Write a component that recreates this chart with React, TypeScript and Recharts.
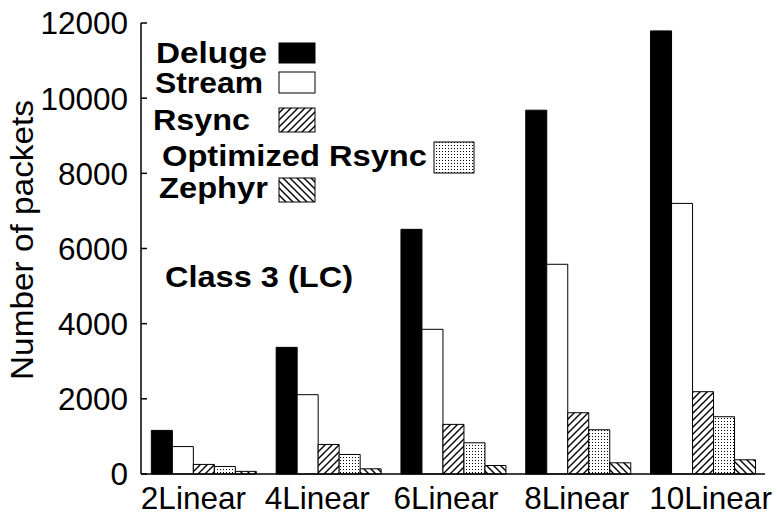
import React from 'react';
import { BarChart, Bar, XAxis, YAxis, Customized } from 'recharts';

const categories = ['2Linear', '4Linear', '6Linear', '8Linear', '10Linear'];
const deluge = [1160, 3370, 6510, 9680, 11790];
const stream = [730, 2110, 3850, 5580, 7200];
const rsync = [255, 786, 1320, 1630, 2190];
const optRsync = [200, 520, 830, 1177, 1524];
const zephyr = [70, 138, 226, 298, 378];
const yTicks = [0, 2000, 4000, 6000, 8000, 10000, 12000];

// small per-label horizontal nudges of the x tick labels (layout only)
const xLabelNudge = [-10, -11, -7, -1, 8];

const data = categories.map((c, i) => ({
  name: c,
  deluge: deluge[i],
  stream: stream[i],
  rsync: rsync[i],
  optRsync: optRsync[i],
  zephyr: zephyr[i],
}));

const FONT = '"Liberation Sans", Arial, Helvetica, sans-serif';

const YTick = (props: any) => {
  const { x, y, payload } = props;
  return (
    <g>
      <line x1={x + 13} x2={x + 19} y1={y} y2={y} stroke="#000" strokeWidth={1.5} />
      <text x={x} y={y} dy="0.36em" textAnchor="end" fontFamily={FONT} fontSize={31.5} fill="#000">
        {payload.value}
      </text>
    </g>
  );
};

const XTick = (props: any) => {
  const { x, y, payload, index } = props;
  const nudge = xLabelNudge[index] ?? 0;
  return (
    <text x={x + nudge} y={y + 33} textAnchor="middle" fontFamily={FONT} fontSize={31.5} fill="#000">
      {payload.value}
    </text>
  );
};

const legendItems = [
  { label: 'Deluge', fill: '#000', tx: 156, ty: 63, tl: 111, bx: 279, by: 43, bw: 36, bh: 20 },
  { label: 'Stream', fill: '#fff', tx: 155, ty: 93, tl: 108, bx: 279, by: 72, bw: 36, bh: 21 },
  { label: 'Rsync', fill: 'url(#hatchUp)', tx: 153, ty: 130, tl: 97, bx: 279, by: 108, bw: 36, bh: 24 },
  { label: 'Optimized Rsync', fill: 'url(#dots)', tx: 162, ty: 166, tl: 265, bx: 434, by: 142, bw: 40, bh: 31 },
  { label: 'Zephyr', fill: 'url(#hatchDown)', tx: 159, ty: 198, tl: 109, bx: 279, by: 178, bw: 36, bh: 24 },
];

const Decor = () => (
  <g>
    <text
      x={33}
      y={240}
      transform="rotate(-90, 33, 240)"
      textAnchor="middle"
      fontFamily={FONT}
      fontSize={31}
      textLength={280}
      lengthAdjust="spacingAndGlyphs"
      fill="#000"
    >
      Number of packets
    </text>
    {legendItems.map((it) => (
      <g key={it.label}>
        <text
          x={it.tx}
          y={it.ty}
          fontFamily={FONT}
          fontWeight="bold"
          fontSize={30}
          textLength={it.tl}
          lengthAdjust="spacingAndGlyphs"
          fill="#000"
        >
          {it.label}
        </text>
        <rect x={it.bx} y={it.by} width={it.bw} height={it.bh} fill={it.fill} stroke="#000" strokeWidth={1} />
      </g>
    ))}
    <text
      x={165}
      y={287}
      fontFamily={FONT}
      fontWeight="bold"
      fontSize={30}
      textLength={188}
      lengthAdjust="spacingAndGlyphs"
      fill="#000"
    >
      Class 3 (LC)
    </text>
  </g>
);

export default function App() {
  return (
    <div style={{ position: 'absolute', left: 0, top: 0, background: '#fff' }}>
      <BarChart
        width={777}
        height={517}
        data={data}
        margin={{ top: 23, right: 12, bottom: 0, left: 0 }}
        barCategoryGap="8.3%"
        barGap={0}
      >
        <defs>
          <pattern id="hatchUp" patternUnits="userSpaceOnUse" width="7" height="7">
            <rect width="7" height="7" fill="#fff" />
            <path d="M-1,1 l2,-2 M0,7 l7,-7 M6,8 l2,-2" stroke="#000" strokeWidth={1.4} />
          </pattern>
          <pattern id="hatchDown" patternUnits="userSpaceOnUse" width="7" height="7">
            <rect width="7" height="7" fill="#fff" />
            <path d="M-1,6 l2,2 M0,0 l7,7 M6,-1 l2,2" stroke="#000" strokeWidth={1.4} />
          </pattern>
          <pattern id="dots" patternUnits="userSpaceOnUse" width="3" height="3">
            <rect width="3" height="3" fill="#fff" />
            <rect x="1" y="1" width="1" height="1" fill="#000" />
          </pattern>
        </defs>
        <XAxis
          dataKey="name"
          height={43}
          tickLine={false}
          tickSize={0}
          tick={<XTick />}
          axisLine={{ stroke: '#000', strokeWidth: 1.5 }}
          interval={0}
        />
        <XAxis
          xAxisId="top"
          dataKey="name"
          orientation="top"
          height={0}
          tick={false}
          tickLine={false}
          axisLine={{ stroke: '#000', strokeWidth: 1.5 }}
        />
        <YAxis
          width={141}
          domain={[0, 12000]}
          ticks={yTicks}
          interval={0}
          tickLine={false}
          tickSize={0}
          tickMargin={13}
          tick={<YTick />}
          axisLine={{ stroke: '#000', strokeWidth: 1.5 }}
        />
        <YAxis
          yAxisId="right"
          orientation="right"
          width={0}
          domain={[0, 12000]}
          tick={false}
          tickLine={false}
          axisLine={{ stroke: '#000', strokeWidth: 1.5 }}
        />
        <Bar dataKey="deluge" fill="#000" stroke="#000" strokeWidth={1} isAnimationActive={false} />
        <Bar dataKey="stream" fill="#fff" stroke="#000" strokeWidth={1} isAnimationActive={false} />
        <Bar dataKey="rsync" fill="url(#hatchUp)" stroke="#000" strokeWidth={1} isAnimationActive={false} />
        <Bar dataKey="optRsync" fill="url(#dots)" stroke="#000" strokeWidth={1} isAnimationActive={false} />
        <Bar dataKey="zephyr" fill="url(#hatchDown)" stroke="#000" strokeWidth={1} isAnimationActive={false} />
        <Customized component={Decor} />
      </BarChart>
    </div>
  );
}
